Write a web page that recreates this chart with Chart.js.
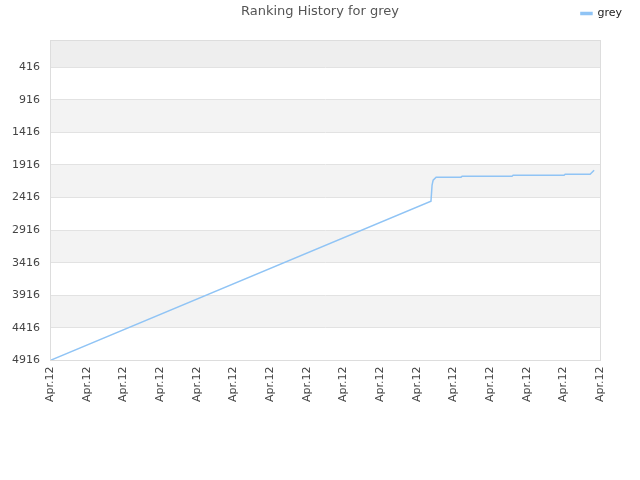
<!DOCTYPE html>
<html>
<head>
<meta charset="utf-8">
<script src="https://cdn.jsdelivr.net/npm/chart.js@4/dist/chart.umd.min.js"></script>
<style>
  html, body { margin: 0; padding: 0; background: #fff; }
  #wrap { width: 640px; height: 480px; }
</style>
</head>
<body>
<div id="wrap"><canvas id="c" width="640" height="480"></canvas></div>
<script>
// Ranking history for "grey" (lower rank number = better)
const chartTitle = 'Ranking History for grey';
const seriesName = 'grey';
const xLabels = ['Apr.12', 'Apr.12', 'Apr.12', 'Apr.12', 'Apr.12', 'Apr.12', 'Apr.12', 'Apr.12',
                 'Apr.12', 'Apr.12', 'Apr.12', 'Apr.12', 'Apr.12', 'Apr.12', 'Apr.12', 'Apr.12'];
// position along the time axis (in label steps) and rank at that moment
const dayPos = [0, 10.39, 10.42, 10.45, 10.53, 11.21, 11.24, 12.6, 12.63, 14.02, 14.05, 14.73, 14.84];
const ranks  = [4916, 2473, 2227, 2150, 2104, 2104, 2089, 2089, 2074, 2074, 2058, 2058, 1997];
const yTicks = [416, 916, 1416, 1916, 2416, 2916, 3416, 3916, 4416, 4916];
const yTop = 0;

const lineColor = 'rgb(144,196,245)';
const FONT = '"DejaVu Sans", sans-serif';

// extra room under the legend row before the plot starts
const legendSpacer = {
  id: 'legendSpacer',
  afterInit(chart) {
    const lg = chart.legend;
    if (!lg || lg._spaced) return;
    const fit = lg.fit.bind(lg);
    lg.fit = function () { fit(); this.height += 11; };
    lg._spaced = true;
  }
};

// alternating horizontal bands, plot frame and the title
const bandsPlugin = {
  id: 'bands',
  beforeDraw(chart) {
    const { ctx, chartArea: a, scales: { y } } = chart;
    ctx.save();
    ctx.fillStyle = '#eeeeee';
    const yFirst = y.getPixelForValue(yTicks[0]);
    ctx.fillRect(a.left, a.top, a.right - a.left, yFirst - a.top);
    for (let i = 0; i < yTicks.length - 1; i++) {
      if (i % 2 === 1) {
        const p0 = y.getPixelForValue(yTicks[i]);
        const p1 = y.getPixelForValue(yTicks[i + 1]);
        ctx.fillStyle = '#f3f3f3';
        ctx.fillRect(a.left, p0, a.right - a.left, p1 - p0);
      }
    }
    ctx.restore();
  },
  afterDraw(chart) {
    const { ctx, chartArea: a } = chart;
    ctx.save();
    ctx.strokeStyle = '#dddddd';
    ctx.lineWidth = 1;
    ctx.strokeRect(Math.round(a.left) + 0.5, Math.round(a.top) + 0.5,
                   Math.round(a.right - a.left), Math.round(a.bottom - a.top));
    ctx.fillStyle = '#555555';
    ctx.font = '13px ' + FONT;
    ctx.textAlign = 'center';
    ctx.textBaseline = 'middle';
    ctx.fillText(chartTitle, chart.width / 2, 12);
    ctx.restore();
  }
};

new Chart(document.getElementById('c'), {
  type: 'line',
  data: {
    datasets: [{
      label: seriesName,
      data: dayPos.map((d, i) => ({ x: d, y: ranks[i] })),
      borderColor: lineColor,
      backgroundColor: lineColor,
      borderWidth: 1.5,
      pointRadius: 0,
      tension: 0,
      fill: false
    }]
  },
  options: {
    responsive: false,
    animation: false,
    layout: { padding: { top: 0, bottom: 72, left: 0, right: 10 } },
    plugins: {
      title: { display: false },
      tooltip: { enabled: false },
      legend: {
        position: 'top',
        align: 'end',
        labels: {
          boxWidth: 11,
          boxHeight: 2,
          padding: 8,
          color: '#222',
          font: { family: FONT, size: 11 }
        }
      }
    },
    scales: {
      x: {
        type: 'linear',
        min: 0,
        max: xLabels.length - 1,
        afterBuildTicks(scale) {
          scale.ticks = xLabels.map((_, i) => ({ value: i }));
        },
        ticks: {
          autoSkip: false,
          minRotation: 90,
          maxRotation: 90,
          padding: 6,
          color: '#444',
          font: { family: FONT, size: 11 },
          callback: (v, i) => xLabels[i]
        },
        grid: { display: false, drawTicks: false },
        border: { display: true, color: '#dddddd' }
      },
      y: {
        type: 'linear',
        reverse: true,
        min: yTop,
        max: yTicks[yTicks.length - 1],
        afterBuildTicks(scale) {
          scale.ticks = yTicks.map(v => ({ value: v }));
        },
        afterFit(scale) { scale.width = 50; },
        ticks: {
          padding: 10,
          color: '#444',
          font: { family: FONT, size: 11 },
          callback: v => String(v)
        },
        grid: { color: '#e2e2e2', drawTicks: false },
        border: { display: true, color: '#dddddd' }
      },
      yRight: {
        type: 'linear',
        position: 'right',
        display: true,
        afterFit(scale) { scale.width = 30; },
        ticks: { display: false },
        grid: { display: false, drawTicks: false },
        border: { display: false }
      }
    }
  },
  plugins: [legendSpacer, bandsPlugin]
});
</script>
</body>
</html>
